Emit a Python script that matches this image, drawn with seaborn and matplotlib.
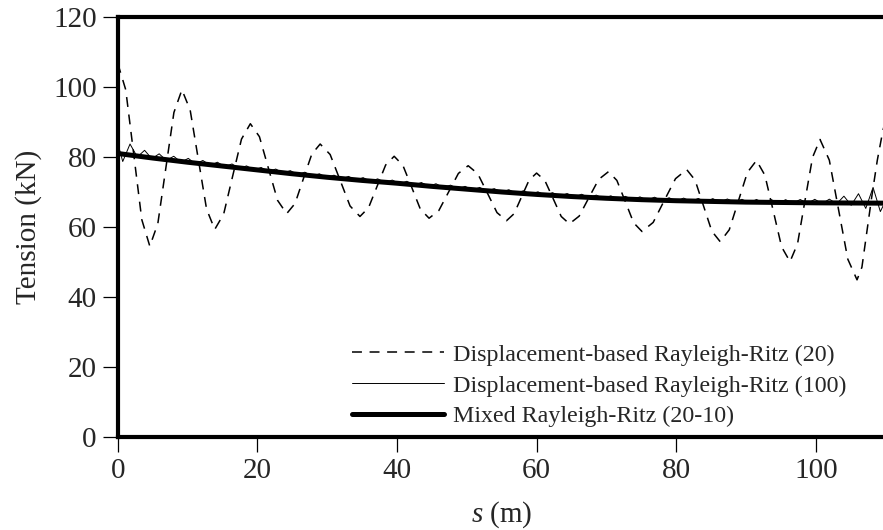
import numpy as np
import pandas as pd
import matplotlib
matplotlib.use("Agg")
import matplotlib.pyplot as plt
import seaborn as sns

# Displacement-based Rayleigh-Ritz solution, 20 terms
disp20_s = [0.0, 1.15, 2.3, 3.45, 4.6, 5.75, 6.9, 8.05, 9.2, 10.38, 11.55, 12.73,
            13.9, 15.18, 16.45, 17.73, 19.0, 20.3, 21.6, 22.9, 24.2, 25.4, 26.6, 27.8,
            29.0, 30.43, 31.85, 33.28, 34.7, 35.93, 37.15, 38.38, 39.6, 40.85, 42.1, 43.35,
            44.6, 46.0, 47.4, 48.8, 50.2, 51.58, 52.95, 54.33, 55.7, 56.78, 57.85, 58.93,
            60.0, 61.18, 62.35, 63.53, 64.7, 66.1, 67.5, 68.9, 70.3, 71.5, 72.7, 73.9,
            75.1, 76.7, 78.3, 79.9, 81.5, 82.7, 83.9, 85.1, 86.3, 87.6, 88.9, 90.2,
            91.5, 92.7, 93.9, 95.1, 96.3, 97.38, 98.45, 99.53, 100.6, 101.93, 103.25, 104.58,
            105.9, 106.6, 107.3, 108.0, 108.8, 109.6, 110.0]
disp20_t = [106.8, 99.2, 80.7, 62.1, 54.5, 61.0, 76.9, 92.7, 99.2, 93.4, 79.3, 65.1,
            59.3, 63.7, 74.4, 85.1, 89.5, 85.8, 76.7, 67.6, 63.8, 66.7, 73.8, 80.8,
            83.7, 80.7, 73.4, 66.0, 63.0, 65.5, 71.6, 77.7, 80.2, 77.6, 71.4, 65.1,
            62.5, 64.7, 70.0, 75.3, 77.5, 75.2, 69.7, 64.1, 61.8, 63.8, 68.6, 73.4,
            75.4, 73.3, 68.2, 63.0, 60.9, 63.1, 68.4, 73.6, 75.8, 73.3, 67.3, 61.2,
            58.7, 61.3, 67.6, 73.8, 76.4, 73.4, 66.1, 58.8, 55.8, 59.2, 67.4, 75.6,
            79.0, 74.8, 64.6, 54.3, 50.1, 55.2, 67.6, 79.9, 85.0, 79.1, 65.0, 50.8,
            44.9, 48.5, 58.5, 68.5, 79.0, 87.5, 90.5]

# Displacement-based Rayleigh-Ritz solution, 100 terms (sampled at its crests and troughs)
disp100_s = np.r_[0.0, np.linspace(0.72, 109.24, 105), 110.0]
disp100_t = [84.0,
             78.7, 83.7, 80.0, 81.9, 79.5, 80.9, 79.0, 80.2, 78.5, 79.6,
             78.0, 79.0, 77.6, 78.5, 77.2, 78.0, 76.7, 77.45, 76.25, 77.0,
             75.8, 76.55, 75.4, 76.1, 74.95, 75.65, 74.5, 75.2, 74.05, 74.8,
             73.7, 74.45, 73.35, 74.1, 73.0, 73.75, 72.65, 73.4, 72.3, 73.05,
             71.95, 72.7, 71.6, 72.35, 71.25, 71.95, 70.9, 71.6, 70.55, 71.3,
             70.25, 70.95, 69.9, 70.65, 69.6, 70.35, 69.3, 70.05, 69.0, 69.8,
             68.8, 69.55, 68.55, 69.35, 68.35, 69.1, 68.1, 68.9, 67.95, 68.75,
             67.8, 68.6, 67.65, 68.5, 67.5, 68.35, 67.35, 68.25, 67.25, 68.15,
             67.15, 68.1, 67.05, 68.0, 67.0, 67.9, 66.9, 67.85, 66.85, 67.85,
             66.8, 67.8, 66.75, 67.85, 66.7, 67.9, 66.65, 67.95, 66.6, 68.8,
             66.2, 69.5, 65.3, 71.3, 64.4,
             67.5]

# Mixed Rayleigh-Ritz solution (20-10)
mixed_s = list(range(0, 111, 5))
mixed_t = [81.0, 79.7, 78.5, 77.4, 76.3, 75.2, 74.2, 73.3, 72.5, 71.6, 70.8, 70.0,
           69.3, 68.7, 68.2, 67.8, 67.5, 67.3, 67.1, 67.0, 66.9, 66.85, 66.8]

labels = ["Displacement-based Rayleigh-Ritz (20)",
          "Displacement-based Rayleigh-Ritz (100)",
          "Mixed Rayleigh-Ritz (20-10)"]
x_ticks = [0, 20, 40, 60, 80, 100]
y_ticks = [0, 20, 40, 60, 80, 100, 120]

sns.set_style("ticks")
plt.rcParams["font.family"] = ["Liberation Serif", "DejaVu Serif"]
plt.rcParams["mathtext.fontset"] = "custom"
plt.rcParams["mathtext.it"] = "Liberation Serif:italic"
plt.rcParams["mathtext.rm"] = "Liberation Serif"

fig = plt.figure(figsize=(8.83, 5.30), dpi=100)
ax = fig.add_axes([0.1333, 0.1755, 0.8697, 0.7925])

d20 = pd.DataFrame({"s": disp20_s, "T": disp20_t})
d100 = pd.DataFrame({"s": disp100_s, "T": disp100_t})
dmx = pd.DataFrame({"s": mixed_s, "T": mixed_t})

sns.lineplot(data=d20, x="s", y="T", ax=ax, color="black", linewidth=1.1,
             dashes=False, estimator=None, label=labels[0])
ax.lines[-1].set_dashes((6.5, 5))
sns.lineplot(data=d100, x="s", y="T", ax=ax, color="black", linewidth=0.7,
             estimator=None, label=labels[1])
sns.lineplot(data=dmx, x="s", y="T", ax=ax, color="black", linewidth=3.6,
             estimator=None, label=labels[2])

ax.set_xlim(0, 110)
ax.set_ylim(0, 120)
ax.set_xticks(x_ticks)
ax.set_yticks(y_ticks)
ax.set_xlabel("$s$ (m)", fontsize=21, labelpad=11)
ax.set_ylabel("Tension (kN)", fontsize=21, labelpad=8)
ax.tick_params(axis="both", which="major", labelsize=21, length=11, width=0.9,
               direction="out", color="black", pad=4)
ax.tick_params(top=False, right=False)

for side in ["left", "bottom", "top"]:
    ax.spines[side].set_linewidth(3.0)
    ax.spines[side].set_color("black")
ax.spines["right"].set_visible(False)

leg = ax.legend(loc="upper left", bbox_to_anchor=(0.305, 0.222), frameon=False,
                fontsize=17.3, handlelength=3.85, handletextpad=0.35,
                labelspacing=0.38, borderpad=0, borderaxespad=0)
for h in leg.get_lines():
    h.set_color("black")

fig.savefig("out.png", dpi=100)
